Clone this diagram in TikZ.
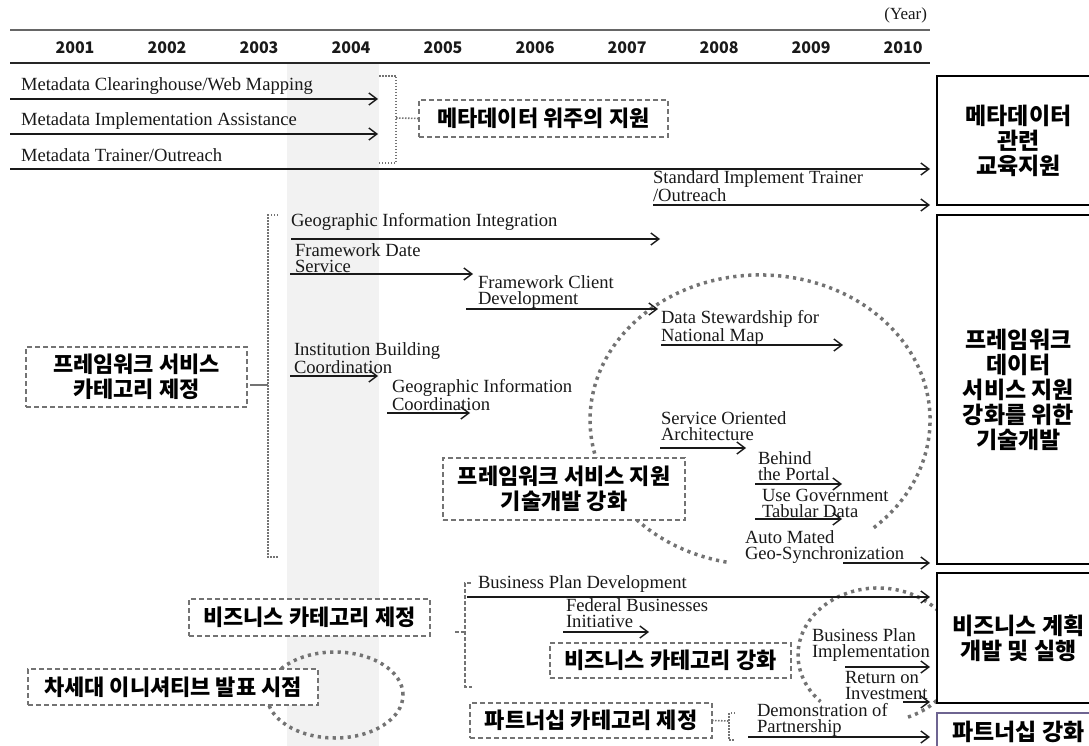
\documentclass[tikz,border=0pt]{standalone}
\usepackage{fontspec}
\setmainfont{Liberation Serif}
\newfontfamily\kr{Noto Sans CJK KR}
\usetikzlibrary{arrows.meta}
\tikzset{
  every node/.style={inner sep=0pt, outer sep=0pt},
  arr/.style={line width=1.4pt, black!90, -{Straight Barb[length=8pt,width=12pt]}},
  lab/.style={anchor=west, align=left, text=black!90, font=\fontsize{18.6}{16}\selectfont},
  yr/.style={text=black!90, font=\kr\bfseries\fontsize{16}{16}\selectfont},
  kbox/.style={draw=black!55, line width=2pt, dash pattern=on 5pt off 3pt, fill=white,
    align=center, font=\kr\bfseries\fontsize{22}{24.5}\selectfont},
  rbox/.style={draw=black, line width=2pt, fill=white, align=center,
    font=\kr\bfseries\fontsize{23}{25}\selectfont},
  bigdot/.style={draw=black!55, line width=3.5pt, dash pattern=on 3.2pt off 4.3pt},
  smalldot/.style={draw=black!55, line width=1.6pt, dash pattern=on 1.5pt off 1.5pt},
  brk/.style={draw=black!55, line width=1.6pt, dash pattern=on 4pt off 2pt},
}
\newcommand\tarr[4]{\coordinate (#1s) at (#2,#4); \coordinate (#1e) at (#3,#4); \draw[arr] (#1s) -- (#1e);}
\begin{document}
\begin{tikzpicture}[x=1pt,y=-1pt]
\useasboundingbox (0,0) rectangle (1089,746);
\clip (0,0) rectangle (1089,746);
% shaded column
\fill[gray!10] (287,64) rectangle (379,746);
% header
\coordinate (tl0) at (10,30); \coordinate (tl1) at (930,30);
\draw[black!60, line width=1.2pt] (tl0) -- (tl1);
\coordinate (hl0) at (10,63); \coordinate (hl1) at (930,63);
\draw[black!85, line width=2.5pt] (hl0) -- (hl1);
\node[anchor=east, text=black!90, font=\fontsize{17}{17}\selectfont] (year) at (927,15) {(Year)};
\foreach \i [count=\k from 0] in {2001,...,2010}{
  \node[yr] (y\i) at (75+92*\k,48) {\i};
}
% dotted ellipses
\draw[bigdot] (873.8,527.7) arc[start angle=-48, end angle=259, x radius=170pt, y radius=145pt];
\draw[bigdot] (908,717.1) arc[start angle=-68, end angle=224, x radius=80pt, y radius=67pt];
\draw[bigdot] (335,695) ellipse[x radius=68pt, y radius=43pt];
% right boxes
\node[rbox, minimum width=163pt, minimum height=129pt] (r1) at (1018.5,140.5) {메타데이터\\관련\\교육지원};
\node[rbox, minimum width=163pt, minimum height=349pt] (r2) at (1018.5,389.5) {프레임워크\\데이터\\서비스 지원\\강화를 위한\\기술개발};
\node[rbox, minimum width=163pt, minimum height=130pt] (r3) at (1018.5,638) {비즈니스 계획\\개발 및 실행};
\node[rbox, draw={rgb,255:red,110;green,100;blue,145}, minimum width=163pt, minimum height=37pt] (r4) at (1018.5,731.5) {파트너십 강화};
% dashed category boxes
\node[kbox, minimum width=249pt, minimum height=37pt] (k1) at (543.5,118.5) {메타데이터 위주의 지원};
\node[kbox, minimum width=221pt, minimum height=60pt] (k2) at (136.5,377) {프레임워크 서비스\\카테고리 제정};
\node[kbox, minimum width=242pt, minimum height=62pt] (k3) at (564,489) {프레임워크 서비스 지원\\기술개발 강화};
\node[kbox, minimum width=241pt, minimum height=37pt] (k4) at (309.5,617.5) {비즈니스 카테고리 제정};
\node[kbox, minimum width=290pt, minimum height=36pt] (k5) at (173,687) {차세대 이니셔티브 발표 시점};
\node[kbox, minimum width=241pt, minimum height=35pt] (k6) at (670.5,660.5) {비즈니스 카테고리 강화};
\node[kbox, minimum width=242pt, minimum height=35pt] (k7) at (591,720.5) {파트너십 카테고리 제정};
% brackets
\coordinate (mb1) at (379,76); \coordinate (mb2) at (396,76); \coordinate (mb3) at (396,163); \coordinate (mb4) at (379,163);
\draw[smalldot] (mb1) -- (mb2) -- (mb3) -- (mb4);
\coordinate (mbs) at (396,118);
\draw[smalldot] (mbs) -- (k1.west);
\coordinate (fb1) at (278,215); \coordinate (fb2) at (268,215); \coordinate (fb3) at (268,557); \coordinate (fb4) at (278,557);
\draw[smalldot] (fb1) -- (fb2) -- (fb3) -- (fb4);
\coordinate (fbs) at (268,385);
\draw[black!55, line width=1.6pt] ([xshift=3pt,yshift=-8pt]k2.east) -- (fbs);
\coordinate (bb1) at (471,583); \coordinate (bb2) at (465,583); \coordinate (bb3) at (465,687); \coordinate (bb4) at (472,687);
\draw[brk] (bb1) -- (bb2) -- (bb3) -- (bb4);
\coordinate (bbs0) at (455,632); \coordinate (bbs1) at (465,632);
\draw[brk] (bbs0) -- (bbs1);
\coordinate (pb1) at (735,713); \coordinate (pb2) at (729,713); \coordinate (pb3) at (729,740); \coordinate (pb4) at (735,740);
\draw[smalldot] (pb1) -- (pb2) -- (pb3) -- (pb4);
\coordinate (pbs) at (729,721);
\draw[smalldot] (k7.east) -- (pbs);
% metadata rows
\node[lab] (m1) at (21,86) {Metadata Clearinghouse/Web Mapping};
\tarr{a1}{10}{378}{99}
\node[lab] (m2) at (21,121) {Metadata Implementation Assistance};
\tarr{a2}{10}{378}{134}
\node[lab] (m3) at (21,155) {Metadata Trainer/Outreach};
\tarr{a3}{10}{930}{169}
\node[lab] (m4) at (653,186) {Standard Implement Trainer\\/Outreach};
\tarr{a4}{653}{930}{205}
% framework rows
\node[lab] (f1) at (291,222) {Geographic Information Integration};
\tarr{a5}{291}{660}{239}
\node[lab] (f2) at (295,258) {Framework Date\\Service};
\tarr{a6}{290}{473}{274}
\node[lab] (f3) at (478,292) {Framework Client\\Development};
\tarr{a7}{466}{658}{309}
\node[lab] (f4) at (661,328) {Data Stewardship for\\National Map};
\tarr{a8}{661}{843}{345}
\node[lab] (f5) at (294,358) {Institution Building\\Coordination};
\tarr{a9}{290}{378}{376}
\node[lab] (f6) at (392,395) {Geographic Information\\Coordination};
\tarr{a10}{387}{470}{413}
\node[lab] (f7) at (661,426) {Service Oriented\\Architecture};
\tarr{a11}{660}{746}{448}
\node[lab] (f8) at (758,466) {Behind\\the Portal};
\tarr{a12}{755}{842}{484}
\node[lab] (f9) at (762,503) {Use Government\\Tabular Data};
\tarr{a13}{755}{842}{519}
\node[lab] (f10) at (745,547) {Auto Mated\\Geo-Synchronization};
\tarr{a14}{843}{930}{563}
% business rows
\node[lab] (b1) at (478,584) {Business Plan Development};
\tarr{a15}{467}{930}{597}
\node[lab] (b2) at (566,613) {Federal Businesses\\Initiative};
\tarr{a16}{563}{649}{632}
\node[lab] (b3) at (812,645) {Business Plan\\Implementation};
\tarr{a17}{845}{930}{667}
\node[lab] (b4) at (845,685) {Return on\\Investment};
\tarr{a18}{903}{930}{702}
\node[lab] (p1) at (757,720) {Demonstration of\\Partnership};
\tarr{a19}{748}{930}{737}
\end{tikzpicture}
\end{document}
